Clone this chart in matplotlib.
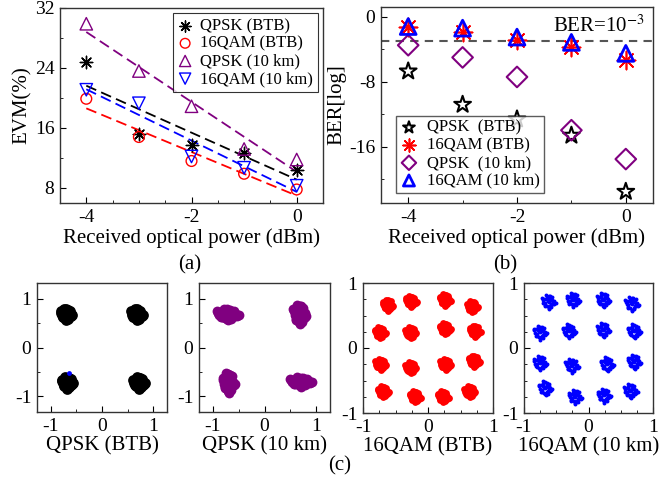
import numpy as np
import matplotlib
matplotlib.use('Agg')
from matplotlib import pyplot as plt
from matplotlib.ticker import MultipleLocator

plt.rcParams['font.family'] = ['Liberation Serif', 'DejaVu Serif']
plt.rcParams['axes.unicode_minus'] = False
plt.rcParams['mathtext.fontset'] = 'stix'

# ---- data ----
power = [-4, -3, -2, -1, 0]

evm_qpsk_btb = [24.8, 15.2, 13.8, 12.7, 10.4]
evm_16qam_btb = [19.9, 14.8, 11.6, 9.9, 7.8]
evm_qpsk_10 = [29.9, 23.6, 18.9, 13.2, 11.8]
evm_16qam_10 = [21.1, 19.3, 12.2, 10.7, 8.3]

ber_qpsk_btb = [-6.7, -10.8, -12.6, -14.6, -21.5]
ber_16qam_btb = [-1.3, -1.85, -2.8, -3.7, -5.3]
ber_qpsk_10 = [-3.5, -5.0, -7.4, -13.95, -17.5]
ber_16qam_10 = [-1.2, -1.4, -2.5, -3.15, -4.5]
ber_limit = -3

# constellation cluster centres
qpsk_btb_x = [-0.70, 0.68, -0.68, 0.72]
qpsk_btb_y = [0.68, 0.68, -0.72, -0.72]
qpsk_10_x = [-0.72, 0.68, -0.70, 0.70]
qpsk_10_y = [0.68, 0.68, -0.72, -0.70]
qpsk_10_sx = [0.20, 0.12, 0.11, 0.20]
qpsk_10_sy = [0.11, 0.19, 0.19, 0.09]

qam_btb_x = [-0.62, -0.26, 0.26, 0.68, -0.74, -0.27, 0.26, 0.72,
             -0.73, -0.27, 0.27, 0.71, -0.69, -0.20, 0.23, 0.64]
qam_btb_y = [0.66, 0.72, 0.74, 0.64, 0.24, 0.24, 0.30, 0.26,
             -0.25, -0.30, -0.25, -0.20, -0.67, -0.75, -0.75, -0.67]
qam_10_x = [-0.62, -0.24, 0.23, 0.67, -0.75, -0.30, 0.23, 0.71,
            -0.75, -0.26, 0.29, 0.71, -0.67, -0.21, 0.24, 0.65]
qam_10_y = [0.71, 0.74, 0.74, 0.68, 0.24, 0.26, 0.28, 0.26,
            -0.23, -0.27, -0.25, -0.21, -0.62, -0.75, -0.73, -0.66]

# blob shape (unit offsets) used around each centre
blob_dx = [0, 0.5, -0.5, 0.3, -0.3, 0.8, -0.8, 0.6, -0.6, 0.0, 0.0, 0.4, -0.4,
           0.9, -0.9, 0.2, -0.2, 0.7, -0.7, 0.1, 0.45, -0.55, 0.25, -0.15, 0.65,
           1.1, -0.35, 0.05, -1.0]
blob_dy = [0, 0.3, -0.2, -0.6, 0.6, 0.1, -0.1, 0.7, -0.5, 0.9, -0.9, -0.8, 0.4,
           -0.3, 0.3, 0.5, -0.7, -0.4, 0.5, 0.2, -0.35, -0.6, 0.85, 0.15, -0.05,
           -0.15, 1.05, -1.1, 0.55]

purple = '#800080'
W, H = 669., 480.


def box(l, r, t, b):
    return [l / W, 1 - b / H, (r - l) / W, (b - t) / H]


def style(ax):
    for s in ax.spines.values():
        s.set_color('#333333')
        s.set_linewidth(1.0)
    ax.tick_params(which='both', direction='in', labelsize=14, pad=4)
    ax.tick_params(which='major', length=4)
    ax.tick_params(which='minor', length=2.5)


fig = plt.figure(figsize=(6.69, 4.8), dpi=100)

# ---- (a) EVM ----
ax = fig.add_axes(box(60, 323, 8, 203))
series = [(evm_qpsk_btb, 'k', dict(marker=(8, 2, 0), color='k', s=80, linewidths=1.0), 'QPSK (BTB)'),
          (evm_16qam_btb, 'r', dict(marker='o', facecolors='none', edgecolors='r', s=60), '16QAM (BTB)'),
          (evm_qpsk_10, purple, dict(marker='^', facecolors='none', edgecolors=purple, s=80), 'QPSK (10 km)'),
          (evm_16qam_10, 'b', dict(marker='v', facecolors='none', edgecolors='b', s=80), '16QAM (10 km)')]
for vals, c, kw, lab in series:
    ax.scatter(power, vals, label=lab, zorder=3, **kw)
for vals, c, kw, lab in series:
    p = np.polyfit(power, vals, 1)
    ax.plot(power, np.polyval(p, power), '--', color=c, lw=1.3, dashes=(6, 3))
ax.set_xlim(-4.5, 0.5)
ax.set_ylim(6, 32)
ax.set_xticks([-4, -2, 0])
ax.set_yticks([8, 16, 24, 32])
ax.xaxis.set_minor_locator(MultipleLocator(0.5))
ax.yaxis.set_minor_locator(MultipleLocator(4))
ax.set_xlabel('Received optical power (dBm)', fontsize=15, labelpad=2)
ax.set_ylabel('EVM(%)', fontsize=15, labelpad=2)
style(ax)
leg = ax.legend(loc='upper right', fontsize=12, frameon=True, fancybox=False,
                handlelength=0.8, handletextpad=0.5, borderpad=0.3,
                labelspacing=0.1, borderaxespad=0.3, markerscale=0.9)
leg.get_frame().set_edgecolor('k')
leg.get_frame().set_linewidth(0.8)

# ---- (b) BER ----
bx = fig.add_axes(box(381, 653, 7, 203))
bx.scatter(power, ber_qpsk_btb, marker='*', facecolors='none', edgecolors='k',
           s=160, linewidths=1.5, label='QPSK  (BTB)', zorder=3)
bx.scatter(power, ber_16qam_btb, marker=(8, 2, 0), color='r', s=170,
           linewidths=1.2, label='16QAM (BTB)', zorder=3)
bx.scatter(power, ber_qpsk_10, marker='D', facecolors='none', edgecolors=purple,
           s=110, linewidths=1.5, label='QPSK  (10 km)', zorder=3)
bx.scatter(power, ber_16qam_10, marker='^', facecolors='none', edgecolors='b',
           s=130, linewidths=2.0, label='16QAM (10 km)', zorder=4)
bx.axhline(ber_limit, color='#555555', ls='--', lw=1.5, dashes=(4, 3), zorder=1)
bx.text(0.97, 0.905, 'BER=10$^{-3}$', transform=bx.transAxes, ha='right',
        va='center', fontsize=15)
bx.set_xlim(-4.5, 0.5)
bx.set_ylim(-22.9, 1.2)
bx.set_xticks([-4, -2, 0])
bx.set_yticks([0, -8, -16])
bx.xaxis.set_minor_locator(MultipleLocator(1))
bx.yaxis.set_minor_locator(MultipleLocator(4))
bx.set_xlabel('Received optical power (dBm)', fontsize=15, labelpad=2)
bx.set_ylabel('BER[log]', fontsize=15, labelpad=2)
style(bx)
leg = bx.legend(loc='lower left', fontsize=12, frameon=True, fancybox=False,
                handlelength=1.0, handletextpad=0.6, borderpad=0.25,
                labelspacing=0.1, borderaxespad=0.6, bbox_to_anchor=(0.02, 0.0),
                markerscale=0.7)
leg.get_frame().set_edgecolor('#333333')
leg.get_frame().set_linewidth(1.0)

# ---- (c) constellations ----
bdx = np.array(blob_dx)
bdy = np.array(blob_dy)


def clusters(ax, cx, cy, sx, sy, color, size):
    for i in range(len(cx)):
        ax.scatter(cx[i] + bdx * sx[i], cy[i] + bdy * sy[i], s=size,
                   color=color, marker='o', linewidths=0)


c1 = fig.add_axes(box(37, 167, 283, 412))
clusters(c1, qpsk_btb_x, qpsk_btb_y, [0.11] * 4, [0.11] * 4, 'k', 60)
c1.scatter([-0.65], [-0.52], s=12, color='b', linewidths=0)
c2 = fig.add_axes(box(199, 330, 283, 412))
clusters(c2, qpsk_10_x, qpsk_10_y, qpsk_10_sx, qpsk_10_sy, purple, 50)
c3 = fig.add_axes(box(363, 493, 283, 413))
clusters(c3, qam_btb_x, qam_btb_y, [0.08] * 16, [0.08] * 16, 'r', 24)
c4 = fig.add_axes(box(524, 653, 283, 413))
clusters(c4, qam_10_x, qam_10_y, [0.1] * 16, [0.1] * 16, 'b', 8)

labels_c = ['QPSK (BTB)', 'QPSK (10 km)', '16QAM (BTB)', '16QAM (10 km)']
for i, c in enumerate([c1, c2, c3, c4]):
    if i < 2:
        c.set_xlim(-1.27, 1.27)
        c.set_ylim(-1.32, 1.32)
        c.xaxis.set_minor_locator(MultipleLocator(0.5))
        c.yaxis.set_minor_locator(MultipleLocator(0.5))
    else:
        c.set_xlim(-1, 1)
        c.set_ylim(-1, 1)
        c.xaxis.set_minor_locator(MultipleLocator(0.25))
        c.yaxis.set_minor_locator(MultipleLocator(0.25))
    c.set_xticks([-1, 0, 1])
    c.set_yticks([-1, 0, 1])
    style(c)
    c.set_xlabel(labels_c[i], fontsize=15, labelpad=1)

fig.text(190 / W, 1 - 265 / H, '(a)', fontsize=15, ha='center', va='center')
fig.text(505 / W, 1 - 265 / H, '(b)', fontsize=15, ha='center', va='center')
fig.text(340 / W, 1 - 466 / H, '(c)', fontsize=15, ha='center', va='center')

plt.savefig('out.png', dpi=100)
